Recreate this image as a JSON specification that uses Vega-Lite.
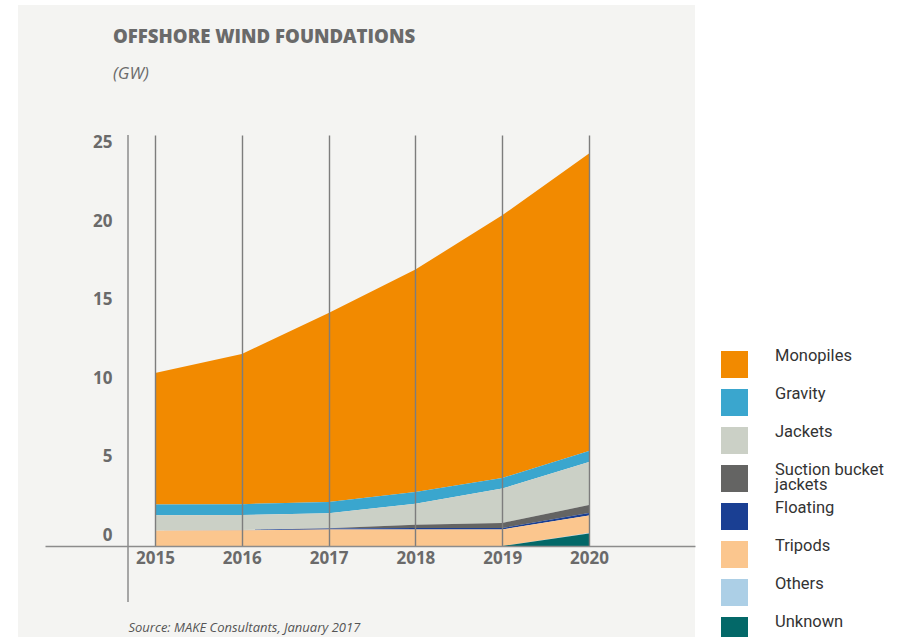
{
  "$schema": "https://vega.github.io/schema/vega-lite/v6.json",
  "autosize": {"type": "none"},
  "width": 650,
  "height": 411,
  "padding": {"left": 45, "top": 135, "right": 202, "bottom": 91},
  "background": "#ffffff",
  "config": {"view": {"stroke": null}, "font": "Open Sans"},
  "title": {
    "text": "OFFSHORE WIND FOUNDATIONS",
    "subtitle": "(GW)",
    "anchor": "start",
    "frame": "group",
    "dx": 68,
    "offset": -77,
    "font": "Open Sans",
    "fontSize": 18.6,
    "fontWeight": 800,
    "color": "#6a6a6a",
    "subtitleFont": "Open Sans",
    "subtitleFontStyle": "italic",
    "subtitleFontSize": 17,
    "subtitleColor": "#6a6a6a",
    "subtitlePadding": 19,
    "zindex": 1
  },
  "layer": [
    {
      "data": {"values": [{}]},
      "mark": {"type": "rect", "color": "#F4F4F2"},
      "encoding": {
        "x": {"datum": 2013.4217, "type": "quantitative"},
        "x2": {"datum": 2021.2212},
        "y": {"datum": 34.5, "type": "quantitative"},
        "y2": {"datum": -6}
      }
    },
    {
      "data": {"values": [{}]},
      "mark": {"type": "rule", "color": "#8c8c8c", "strokeWidth": 1.5},
      "encoding": {
        "x": {"datum": 2014.689, "type": "quantitative"},
        "y": {"datum": 26.21, "type": "quantitative"},
        "y2": {"datum": -3.57}
      }
    },
    {
      "data": {
        "values": [
          {"Year": 2015, "Type": "Monopiles", "GW": 8.39},
          {"Year": 2015, "Type": "Gravity", "GW": 0.68},
          {"Year": 2015, "Type": "Jackets", "GW": 0.98},
          {"Year": 2015, "Type": "Suction bucket jackets", "GW": 0},
          {"Year": 2015, "Type": "Floating", "GW": 0},
          {"Year": 2015, "Type": "Tripods", "GW": 0.98},
          {"Year": 2015, "Type": "Others", "GW": 0},
          {"Year": 2015, "Type": "Unknown", "GW": 0},
          {"Year": 2016, "Type": "Monopiles", "GW": 9.57},
          {"Year": 2016, "Type": "Gravity", "GW": 0.69},
          {"Year": 2016, "Type": "Jackets", "GW": 0.96},
          {"Year": 2016, "Type": "Suction bucket jackets", "GW": 0},
          {"Year": 2016, "Type": "Floating", "GW": 0.02},
          {"Year": 2016, "Type": "Tripods", "GW": 1.0},
          {"Year": 2016, "Type": "Others", "GW": 0},
          {"Year": 2016, "Type": "Unknown", "GW": 0},
          {"Year": 2017, "Type": "Monopiles", "GW": 12.05},
          {"Year": 2017, "Type": "Gravity", "GW": 0.72},
          {"Year": 2017, "Type": "Jackets", "GW": 0.96},
          {"Year": 2017, "Type": "Suction bucket jackets", "GW": 0.02},
          {"Year": 2017, "Type": "Floating", "GW": 0.05},
          {"Year": 2017, "Type": "Tripods", "GW": 1.06},
          {"Year": 2017, "Type": "Others", "GW": 0},
          {"Year": 2017, "Type": "Unknown", "GW": 0},
          {"Year": 2018, "Type": "Monopiles", "GW": 14.19},
          {"Year": 2018, "Type": "Gravity", "GW": 0.74},
          {"Year": 2018, "Type": "Jackets", "GW": 1.34},
          {"Year": 2018, "Type": "Suction bucket jackets", "GW": 0.21},
          {"Year": 2018, "Type": "Floating", "GW": 0.09},
          {"Year": 2018, "Type": "Tripods", "GW": 1.06},
          {"Year": 2018, "Type": "Others", "GW": 0},
          {"Year": 2018, "Type": "Unknown", "GW": 0},
          {"Year": 2019, "Type": "Monopiles", "GW": 16.75},
          {"Year": 2019, "Type": "Gravity", "GW": 0.68},
          {"Year": 2019, "Type": "Jackets", "GW": 2.19},
          {"Year": 2019, "Type": "Suction bucket jackets", "GW": 0.33},
          {"Year": 2019, "Type": "Floating", "GW": 0.09},
          {"Year": 2019, "Type": "Tripods", "GW": 1.05},
          {"Year": 2019, "Type": "Others", "GW": 0},
          {"Year": 2019, "Type": "Unknown", "GW": 0},
          {"Year": 2020, "Type": "Monopiles", "GW": 18.97},
          {"Year": 2020, "Type": "Gravity", "GW": 0.70},
          {"Year": 2020, "Type": "Jackets", "GW": 2.75},
          {"Year": 2020, "Type": "Suction bucket jackets", "GW": 0.51},
          {"Year": 2020, "Type": "Floating", "GW": 0.16},
          {"Year": 2020, "Type": "Tripods", "GW": 1.11},
          {"Year": 2020, "Type": "Others", "GW": 0.03},
          {"Year": 2020, "Type": "Unknown", "GW": 0.80}
        ]
      },
      "transform": [
        {"calculate": "indexof(['Unknown','Others','Tripods','Floating','Suction bucket jackets','Jackets','Gravity','Monopiles'], datum.Type)", "as": "stackOrder"}
      ],
      "mark": {"type": "area", "interpolate": "linear", "opacity": 1, "strokeWidth": 0},
      "encoding": {
        "x": {
          "field": "Year",
          "type": "quantitative",
          "scale": {"domain": [2013.7327, 2021.2212], "nice": false, "zero": false},
          "axis": {
            "values": [2015, 2016, 2017, 2018, 2019, 2020],
            "format": "d",
            "grid": true,
            "gridColor": "#7d7d7d",
            "gridWidth": 1.4,
            "gridOpacity": 1,
            "ticks": false,
            "tickSize": 0,
            "domain": true,
            "domainColor": "#8c8c8c",
            "domainWidth": 1.5,
            "labelFont": "Open Sans",
            "labelFontSize": 17,
            "labelFontWeight": "bold",
            "labelColor": "#6a6a6a",
            "labelPadding": 4,
            "labelFlush": false,
            "labelOverlap": false,
            "title": "Source: MAKE Consultants, January 2017",
            "titleX": 83,
            "titleY": 81,
            "titleAlign": "left",
            "titleBaseline": "middle",
            "titleFont": "Open Sans",
            "titleFontSize": 13,
            "titleFontStyle": "italic",
            "titleFontWeight": "normal",
            "titleColor": "#555555",
            "zindex": 1
          }
        },
        "y": {
          "field": "GW",
          "type": "quantitative",
          "stack": "zero",
          "scale": {"domain": [0, 26.21], "nice": false},
          "axis": {
            "values": [0, 5, 10, 15, 20, 25],
            "grid": false,
            "ticks": false,
            "tickSize": 0,
            "domain": false,
            "offset": -67,
            "labelPadding": 0,
            "labelOffset": -11,
            "labelFont": "Open Sans",
            "labelFontSize": 17,
            "labelFontWeight": "bold",
            "labelColor": "#6a6a6a",
            "labelFlush": false,
            "labelOverlap": false,
            "title": null,
            "zindex": 1
          }
        },
        "order": {"field": "stackOrder", "type": "quantitative", "sort": "ascending"},
        "color": {
          "field": "Type",
          "type": "nominal",
          "scale": {
            "domain": ["Monopiles", "Gravity", "Jackets", "Suction bucket jackets", "Floating", "Tripods", "Others", "Unknown"],
            "range": ["#F28A00", "#3AA6CE", "#CBD0C6", "#646463", "#1A3F93", "#FBC68E", "#ACCFE6", "#036868"]
          },
          "legend": {
            "orient": "none",
            "legendX": 676,
            "legendY": 216,
            "title": null,
            "padding": 0,
            "symbolType": "square",
            "symbolSize": 729,
            "symbolStrokeWidth": 0,
            "symbolOpacity": 1,
            "gridAlign": "all",
            "rowPadding": 6,
            "labelOffset": 27,
            "labelFont": "Roboto",
            "labelFontSize": 16.5,
            "labelColor": "#333333",
            "labelBaseline": "alphabetic",
            "labelLimit": 200,
            "labelExpr": "datum.label == 'Suction bucket jackets' ? ['Suction bucket', 'jackets'] : datum.label",
            "encode": {"labels": {"update": {"lineHeight": {"value": 15}, "dy": {"value": -4}}}}
          }
        }
      }
    }
  ]
}
